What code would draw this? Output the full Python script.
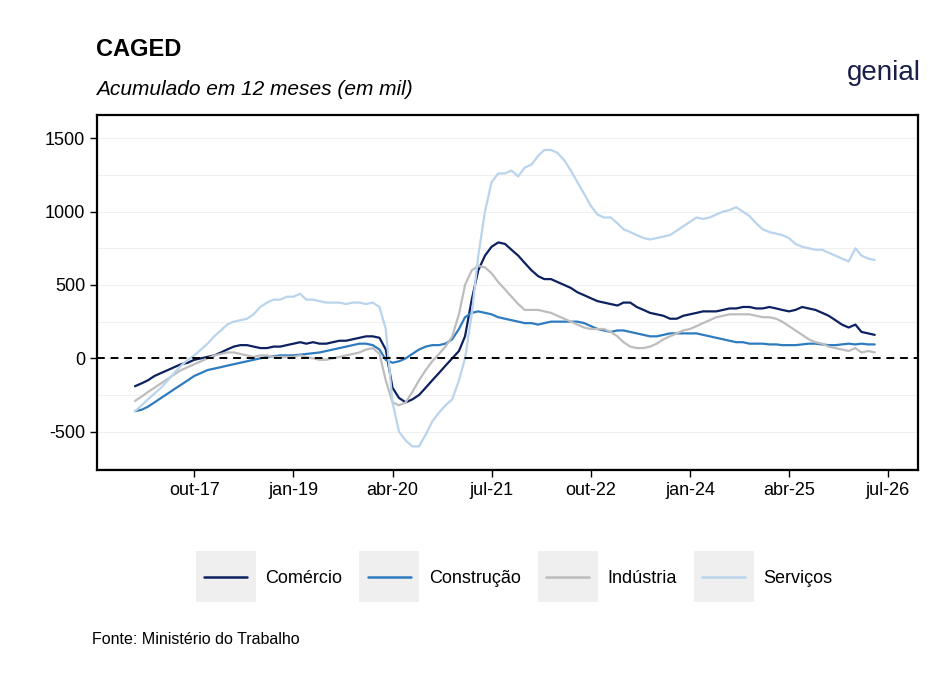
import numpy as np, pandas as pd, seaborn as sns, matplotlib
matplotlib.use("Agg")
import matplotlib.pyplot as plt
from matplotlib.legend_handler import HandlerLine2D
from matplotlib.patches import Rectangle
from matplotlib.lines import Line2D

sns.set_style("white")
plt.rcParams['font.family'] = ['Liberation Sans', 'DejaVu Sans']
plt.rcParams['text.color'] = 'black'

comercio = [-190,-170,-150,-120,-100,-80,-60,-40,-30,-10,0,10,
 20,40,60,80,90,90,80,70,70,80,80,90,
 100,110,100,110,100,100,110,120,120,130,140,150,
 150,140,60,-200,-270,-300,-280,-250,-200,-150,-100,-50,
 0,50,150,400,600,700,760,790,780,740,700,650,
 600,560,540,540,520,500,480,450,430,410,390,380,
 370,360,380,380,350,330,310,300,290,270,270,290,
 300,310,320,320,320,330,340,340,350,350,340,340,
 350,340,330,320,330,350,340,330,310,290,260,230,
 210,230,180,170,160]
construcao = [-360,-350,-330,-300,-270,-240,-210,-180,-150,-120,-100,-80,
 -70,-60,-50,-40,-30,-20,-10,0,10,15,20,20,
 20,25,30,35,40,50,60,70,80,90,100,100,
 90,60,-10,-30,-20,0,30,60,80,90,90,100,
 130,200,280,310,320,310,300,280,270,260,250,240,
 240,230,240,250,250,250,250,250,240,220,200,190,
 180,190,190,180,170,160,150,150,160,170,170,170,
 170,170,160,150,140,130,120,110,110,100,100,100,
 95,95,90,90,90,95,100,100,95,90,90,95,
 100,95,100,95,95]
industria = [-290,-260,-230,-200,-170,-140,-110,-80,-60,-40,-20,0,
 20,30,40,40,30,20,10,20,20,10,10,10,
 10,20,10,0,-10,-10,0,10,20,30,40,60,
 70,30,-150,-300,-320,-300,-230,-150,-80,-20,30,80,
 150,300,500,600,630,620,580,520,470,420,370,330,
 330,330,320,310,290,270,250,230,210,200,200,200,
 180,150,110,80,70,70,80,100,130,150,170,190,
 200,220,240,260,280,290,300,300,300,300,290,280,
 280,270,250,220,190,160,130,110,100,80,70,60,
 50,70,40,50,40]
servicos = [-360,-320,-280,-240,-200,-150,-100,-50,-10,20,60,100,
 150,190,230,250,260,270,300,350,380,400,400,420,
 420,440,400,400,390,380,380,380,370,380,380,370,
 380,350,200,-300,-500,-560,-600,-600,-520,-430,-370,-320,
 -280,-150,0,300,700,1000,1200,1260,1260,1280,1240,1300,
 1320,1380,1420,1420,1400,1350,1280,1200,1120,1040,980,960,
 960,920,880,860,840,820,810,820,830,840,870,900,
 930,960,950,960,980,1000,1010,1030,1000,970,920,880,
 860,850,840,820,780,760,750,740,740,720,700,680,
 660,750,700,680,670]
series_names = ["Comércio", "Construção", "Indústria", "Serviços"]
colors = ["#0d2060", "#2f7bbf", "#bdbdbd", "#b9d4ec"]
tick_labels = ["out-17","jan-19","abr-20","jul-21","out-22","jan-24","abr-25","jul-26"]
tick_dates = pd.to_datetime(["2017-10-01","2019-01-01","2020-04-01","2021-07-01",
                             "2022-10-01","2024-01-01","2025-04-01","2026-07-01"])

dates = pd.date_range("2017-01-01", periods=len(comercio), freq="MS")
df = pd.DataFrame({"data": dates, "Comércio": comercio, "Construção": construcao,
                   "Indústria": industria, "Serviços": servicos})
long = df.melt(id_vars="data", var_name="setor", value_name="valor")

fig = plt.figure(figsize=(9.51, 6.79), dpi=100)
ax = fig.add_axes([0.102, 0.308, 0.863, 0.523])
for y in np.arange(-750, 1751, 250):
    ax.axhline(y, color="#f0f0f0", lw=0.8, zorder=0)
sns.lineplot(data=long, x="data", y="valor", hue="setor", hue_order=series_names,
             palette=colors, lw=1.6, ax=ax, legend=False, zorder=3)
ax.axhline(0, color="black", ls=(0, (4, 3)), lw=1.4, zorder=4)
ax.set_xlim(pd.Timestamp("2016-07-10"), pd.Timestamp("2026-11-15"))
ax.set_ylim(-760, 1660)
ax.set_yticks([-500, 0, 500, 1000, 1500])
ax.set_yticklabels(["-500", "0", "500", "1000", "1500"])
ax.set_xticks(tick_dates)
ax.set_xticklabels(tick_labels)
ax.tick_params(axis="both", labelsize=13, colors="black", length=5, width=1, direction="out",
               bottom=True, left=True)
ax.set_xlabel(""); ax.set_ylabel("")
for s in ax.spines.values():
    s.set_color("black"); s.set_linewidth(1.6)

fig.text(0.101, 0.918, "CAGED", fontsize=17, fontweight="bold", color="black")
fig.text(0.101, 0.86, "Acumulado em 12 meses (em mil)", fontsize=15, style="italic", color="black")
fig.text(0.968, 0.882, "genial", fontsize=20, color="#1a1f4a", ha="right")
fig.text(0.097, 0.052, "Fonte: Ministério do Trabalho", fontsize=11.5, color="black")

class BgHandler(HandlerLine2D):
    def create_artists(self, legend, orig, xd, yd, w, h, fontsize, trans):
        r = Rectangle((-xd - 6, -yd - 14), w + 12, h + 28, facecolor="#efefef", edgecolor="none", transform=trans)
        arts = super().create_artists(legend, orig, xd, yd, w, h, fontsize, trans)
        return [r] + arts

handles = [Line2D([], [], color=c, lw=1.8) for c in colors]
fig.legend(handles, series_names, loc="center", bbox_to_anchor=(0.545, 0.148), ncol=4,
           frameon=False, fontsize=13, handlelength=2.4, columnspacing=1.4, handletextpad=1.0,
           handler_map={Line2D: BgHandler()})
fig.savefig("out.png", dpi=100)
